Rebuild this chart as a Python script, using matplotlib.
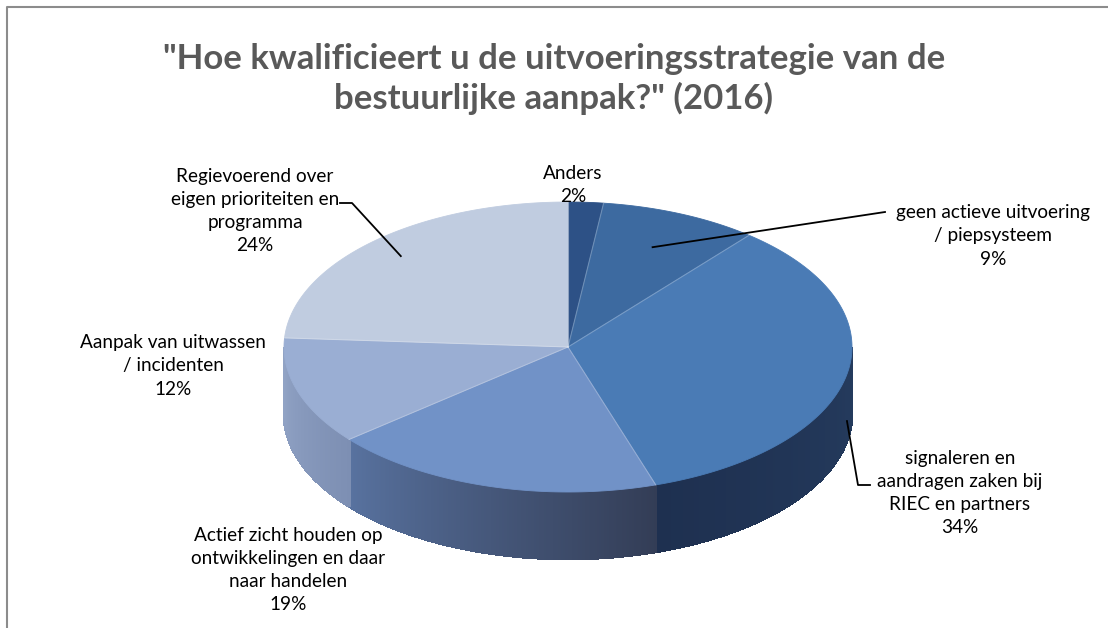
import numpy as np
import matplotlib.pyplot as plt
from matplotlib.patches import Polygon
from matplotlib.colors import to_rgb

plt.rcParams['font.family'] = ['Lato', 'DejaVu Sans']

title = '"Hoe kwalificieert u de uitvoeringsstrategie van de\nbestuurlijke aanpak?" (2016)'
labels = ["Anders", "geen actieve uitvoering\n/ piepsysteem",
          "signaleren en\naandragen zaken bij\nRIEC en partners",
          "Actief zicht houden op\nontwikkelingen en daar\nnaar handelen",
          "Aanpak van uitwassen\n/ incidenten",
          "Regievoerend over\neigen prioriteiten en\nprogramma"]
values = [2, 9, 34, 19, 12, 24]

top_colors = ["#2d5186", "#3d6aa0", "#4a7bb5", "#7192c7", "#9aaed3", "#c0cce0"]
# side colour at the start / end of each slice (clockwise)
side_colors = [("#1f3a60", "#1f3a60"), ("#2a4a75", "#2a4a75"),
               ("#2a4468", "#1e3050"), ("#333d56", "#58729f"),
               ("#7d8fb3", "#93a5c7"), ("#a9b6cf", "#a9b6cf")]

cx, cy, a, b, depth = 568, 347, 284, 145, 67

fig = plt.figure(figsize=(11.08, 6.28), dpi=100)
ax = fig.add_axes([0, 0, 1, 1])
ax.set_xlim(0, 1108)
ax.set_ylim(628, 0)
ax.axis("off")

frac = np.array(values) / sum(values)
bounds = np.concatenate([[0], np.cumsum(frac)])


def pt(theta, r=1.0, dz=0.0):
    return cx + r * a * np.cos(theta), cy - r * b * np.sin(theta) + dz


# side walls (only the front half is visible)
for i in range(len(values)):
    t0 = np.pi / 2 - 2 * np.pi * bounds[i]
    t1 = np.pi / 2 - 2 * np.pi * bounds[i + 1]
    ts = np.linspace(t0, t1, 200)
    c0, c1 = np.array(to_rgb(side_colors[i][0])), np.array(to_rgb(side_colors[i][1]))
    for k in range(len(ts) - 1):
        ta, tb = ts[k], ts[k + 1]
        if np.sin((ta + tb) / 2) > 0:
            continue
        col = c0 + (c1 - c0) * k / (len(ts) - 2)
        xa, ya = pt(ta)
        xb, yb = pt(tb)
        quad = [(xa, ya), (xb, yb), (xb, yb + depth), (xa, ya + depth)]
        ax.add_patch(Polygon(quad, closed=True, fc=col, ec=col, lw=1.2, antialiased=False))

# top faces
for i in range(len(values)):
    t0 = np.pi / 2 - 2 * np.pi * bounds[i]
    t1 = np.pi / 2 - 2 * np.pi * bounds[i + 1]
    ts = np.linspace(t0, t1, 200)
    poly = [(cx, cy)] + [pt(t) for t in ts]
    ax.add_patch(Polygon(poly, closed=True, fc=top_colors[i], ec=top_colors[i], lw=0.6))
for i in range(len(values)):
    t0 = np.pi / 2 - 2 * np.pi * bounds[i]
    x0, y0 = pt(t0)
    ax.plot([cx, x0], [cy, y0], color="white", alpha=0.25, lw=0.8)

# data labels
label_pos = [(573, 185), (993, 236), (960, 493), (288, 570), (173, 366), (255, 211)]
for i in range(len(values)):
    txt = labels[i] + "\n" + f"{values[i]}%"
    ax.text(label_pos[i][0], label_pos[i][1], txt, ha="center", va="center",
            fontsize=13.7, color="black", linespacing=1.43)

# leader lines
mid = lambda i: np.pi / 2 - 2 * np.pi * (bounds[i] + bounds[i + 1]) / 2
sx, sy = pt(mid(1), 0.75)
ax.plot([sx, 885], [sy, 212], color="black", lw=1.3)
sx, sy = pt(mid(2), 1.0, 0.7 * depth)
ax.plot([sx, 858, 870], [sy, 485, 485], color="black", lw=1.3)
sx, sy = pt(mid(5), 0.86)
ax.plot([sx, 352, 340], [sy, 203, 203], color="black", lw=1.3)

ax.text(554, 79, title, ha="center", va="center", fontsize=25, fontweight="bold",
        color="#595959", linespacing=1.26)

# chart frame
ax.plot([7, 7, 1108], [628, 7, 7], color="#8c8c8c", lw=1.5)

fig.savefig("out.png", dpi=100)
